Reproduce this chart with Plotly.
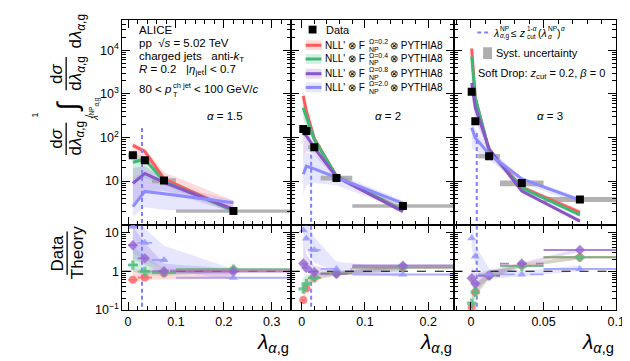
import plotly.graph_objects as go

W, H = 630, 361
FONT = "Liberation Sans, Arial, sans-serif"

# ---------------- data: alpha = 1.5 ----------------
a1_edges = [0.0, 0.02, 0.05, 0.10, 0.34]
a1_data = [39.0, 30.0, 10.3, 2.06]
a1_syst = [0.10, 0.10, 0.13, 0.09]
a1_th_02 = [66.0, 48.0, 11.2, 2.1]
a1_th_04 = [27.0, 31.5, 9.9, 2.1]
a1_th_08 = [8.9, 15.0, 9.4, 2.25]
a1_th_20 = [2.6, 5.8, 5.1, 3.2]
a1_lo_02 = [35, 30, 9.0, 1.9]
a1_hi_02 = [75, 56, 16, 3.6]
a1_lo_04 = [9, 12, 8, 1.9]
a1_hi_04 = [40, 38, 12, 2.4]
a1_lo_08 = [3, 6, 6, 1.9]
a1_hi_08 = [20, 22, 11, 2.6]
a1_lo_20 = [1.5, 2.5, 2.2, 1.9]
a1_hi_20 = [12, 16, 9, 3.6]
a1_rat_02 = [0.6, 0.69, 0.89, 1.1]
a1_rat_04 = [1.45, 0.98, 0.92, 1.12]
a1_rat_08 = [4.7, 2.15, 1.0, 0.98]
a1_rat_20 = [14.0, 5.4, 1.95, 0.68]
a1_np_cut = 0.029
a1_np_top = 165

# ---------------- data: alpha = 2 ----------------
a2_edges = [0.0, 0.005, 0.01, 0.03, 0.08, 0.24]
a2_data = [157.0, 141.0, 60.0, 11.8, 2.7]
a2_syst = [0.10, 0.10, 0.10, 0.13, 0.09]
a2_th_02 = [900, 400, 95, 13.0, 2.1]
a2_th_04 = [480, 300, 90, 13.0, 2.1]
a2_th_08 = [125, 110, 58, 12.6, 2.0]
a2_th_20 = [14.5, 22, 19, 12.2, 3.1]
a2_lo_02 = [350, 230, 75, 11.5, 1.9]
a2_hi_02 = [1100, 480, 110, 15, 2.6]
a2_lo_04 = [250, 180, 70, 11.5, 1.9]
a2_hi_04 = [600, 380, 100, 14.5, 2.5]
a2_lo_08 = [30, 50, 40, 11, 1.9]
a2_hi_08 = [200, 150, 70, 14, 2.3]
a2_lo_20 = [5, 8, 9, 8, 2.2]
a2_hi_20 = [30, 45, 40, 15, 3.6]
a2_rat_02 = [0.18, 0.36, 0.68, 0.88, 1.25]
a2_rat_04 = [0.35, 0.48, 0.68, 0.88, 1.25]
a2_rat_08 = [1.58, 1.22, 0.95, 0.86, 1.4]
a2_rat_20 = [11.4, 7.0, 3.55, 1.15, 0.83]
a2_np_cut = 0.015
a2_np_top = 40

# ---------------- data: alpha = 3 ----------------
a3_edges = [0.0, 0.001, 0.005, 0.02, 0.05, 0.10]
a3_data = [1120.0, 237.0, 37.4, 9.0, 3.8]
a3_syst = [0.12, 0.12, 0.12, 0.15, 0.13]
a3_th_02 = [11000, 800, 50, 7.3, 1.93]
a3_th_04 = [7200, 800, 50, 7.0, 1.68]
a3_th_08 = [1780, 485, 55, 5.9, 1.21]
a3_th_20 = [167, 97, 42, 11.2, 3.65]
a3_lo_02 = [5000, 500, 40, 6.5, 1.7]
a3_hi_02 = [14000, 1000, 60, 8.0, 2.2]
a3_lo_04 = [4000, 500, 40, 6.3, 1.5]
a3_hi_04 = [9000, 1000, 60, 7.7, 1.9]
a3_lo_08 = [900, 250, 40, 5.5, 1.1]
a3_hi_08 = [3000, 700, 65, 6.5, 1.35]
a3_lo_20 = [60, 50, 30, 9.0, 3.0]
a3_hi_20 = [300, 150, 55, 12.5, 4.2]
a3_rat_02 = [0.12, 0.29, 0.78, 1.4, 2.3]
a3_rat_04 = [0.15, 0.29, 0.78, 1.35, 2.3]
a3_rat_08 = [0.66, 0.48, 0.76, 1.58, 3.55]
a3_rat_20 = [7.1, 2.4, 0.83, 0.83, 1.15]
a3_np_cut = 0.004
a3_np_top = 127

alpha_labels = ["1.5", "2", "3"]
omega_labels = ["0.2", "0.4", "0.8", "2.0"]

COL = ["#ff5a5a", "#3cb878", "#8a55c8", "#8c8cff"]
BAND = ["rgba(255,90,90,0.22)", "rgba(60,184,120,0.22)",
        "rgba(138,85,200,0.22)", "rgba(140,140,255,0.22)"]
MCOL = ["rgba(255,100,100,0.8)", "rgba(80,190,130,0.8)",
        "rgba(150,100,210,0.8)", "rgba(150,150,255,0.8)"]
SYMB = ["circle", "cross", "diamond", "triangle-up"]
BARDASH = ["solid", "solid", "dash", "longdash"]
CUTDASH = "4px,3px"

panels = [
    dict(edges=a1_edges, data=a1_data, syst=a1_syst,
         th=[a1_th_02, a1_th_04, a1_th_08, a1_th_20],
         lo=[a1_lo_02, a1_lo_04, a1_lo_08, a1_lo_20],
         hi=[a1_hi_02, a1_hi_04, a1_hi_08, a1_hi_20],
         rat=[a1_rat_02, a1_rat_04, a1_rat_08, a1_rat_20],
         cut=a1_np_cut, cuttop=a1_np_top,
         xr=[-0.012, 0.34], dt=0.1, mdt=0.02, xd=[116, 287]),
    dict(edges=a2_edges, data=a2_data, syst=a2_syst,
         th=[a2_th_02, a2_th_04, a2_th_08, a2_th_20],
         lo=[a2_lo_02, a2_lo_04, a2_lo_08, a2_lo_20],
         hi=[a2_hi_02, a2_hi_04, a2_hi_08, a2_hi_20],
         rat=[a2_rat_02, a2_rat_04, a2_rat_08, a2_rat_20],
         cut=a2_np_cut, cuttop=a2_np_top,
         xr=[-0.017, 0.24], dt=0.1, mdt=0.02, xd=[287, 452]),
    dict(edges=a3_edges, data=a3_data, syst=a3_syst,
         th=[a3_th_02, a3_th_04, a3_th_08, a3_th_20],
         lo=[a3_lo_02, a3_lo_04, a3_lo_08, a3_lo_20],
         hi=[a3_hi_02, a3_hi_04, a3_hi_08, a3_hi_20],
         rat=[a3_rat_02, a3_rat_04, a3_rat_08, a3_rat_20],
         cut=a3_np_cut, cuttop=a3_np_top,
         xr=[-0.012, 0.10], dt=0.05, mdt=0.01, xd=[452, 617]),
]

Y_TOP = [12, 221]
Y_BOT = [221, 308]


def px(x):
    return x / W


def py(y):
    return 1 - y / H


fig = go.Figure()

for i, p in enumerate(panels):
    xt, yt = ("x" if i == 0 else f"x{i+1}"), ("y" if i == 0 else f"y{i+1}")
    xb, yb = f"x{i+4}", f"y{i+4}"
    e = p["edges"]
    nb = len(e) - 1
    cen = [(e[k] + e[k + 1]) / 2 for k in range(nb)]

    # theory bands (top)
    for m in range(4):
        fig.add_trace(go.Scatter(
            x=cen + cen[::-1], y=p["hi"][m] + p["lo"][m][::-1],
            fill="toself", fillcolor=BAND[m], line=dict(width=0),
            mode="lines", hoverinfo="skip", showlegend=False, xaxis=xt, yaxis=yt))
    # systematic boxes
    sx, sy = [], []
    for k in range(nb):
        lo_v = p["data"][k] * (1 - p["syst"][k])
        hi_v = p["data"][k] * (1 + p["syst"][k])
        sx += [e[k], e[k + 1], e[k + 1], e[k], e[k], None]
        sy += [lo_v, lo_v, hi_v, hi_v, lo_v, None]
    fig.add_trace(go.Scatter(x=sx, y=sy, fill="toself",
                             fillcolor="rgba(165,165,165,0.85)", line=dict(width=0),
                             mode="lines", showlegend=False, xaxis=xt, yaxis=yt))
    # theory lines
    for m in range(4):
        fig.add_trace(go.Scatter(x=cen, y=p["th"][m], mode="lines",
                                 line=dict(color=COL[m], width=3),
                                 showlegend=False, xaxis=xt, yaxis=yt))
    # NP cut line
    fig.add_trace(go.Scatter(x=[p["cut"], p["cut"]], y=[p["cuttop"], 0.5], mode="lines",
                             line=dict(color="#8080ff", width=2, dash=CUTDASH),
                             showlegend=False, xaxis=xt, yaxis=yt))
    # data
    fig.add_trace(go.Scatter(x=cen, y=p["data"], mode="markers",
                             marker=dict(symbol="square", size=8, color="black"),
                             showlegend=False, xaxis=xt, yaxis=yt))

    # ---- ratio panel ----
    for m in range(4):
        r = p["rat"][m]
        rhi = [r[k] * p["th"][m][k] / p["lo"][m][k] for k in range(nb)]
        rlo = [r[k] * p["th"][m][k] / p["hi"][m][k] for k in range(nb)]
        fig.add_trace(go.Scatter(
            x=cen + cen[::-1], y=rhi + rlo[::-1],
            fill="toself", fillcolor=BAND[m], line=dict(width=0),
            mode="lines", hoverinfo="skip", showlegend=False, xaxis=xb, yaxis=yb))
    fig.add_trace(go.Scatter(x=p["xr"], y=[1, 1], mode="lines",
                             line=dict(color="black", width=1, dash="dash"),
                             showlegend=False, xaxis=xb, yaxis=yb))
    fig.add_trace(go.Scatter(x=[p["cut"], p["cut"]], y=[0.01, 100], mode="lines",
                             line=dict(color="#8080ff", width=2, dash=CUTDASH),
                             showlegend=False, xaxis=xb, yaxis=yb))
    for m in range(4):
        r = p["rat"][m]
        bx, by = [], []
        for k in range(nb - 1):
            bx += [e[k], e[k + 1], None]
            by += [r[k], r[k], None]
        fig.add_trace(go.Scatter(x=bx, y=by, mode="lines",
                                 line=dict(color=MCOL[m], width=1.8, dash=BARDASH[m]),
                                 showlegend=False, xaxis=xb, yaxis=yb))
        fig.add_trace(go.Scatter(x=[e[nb - 1], e[nb]], y=[r[nb - 1], r[nb - 1]], mode="lines",
                                 line=dict(color=MCOL[m], width=2),
                                 showlegend=False, xaxis=xb, yaxis=yb))
        fig.add_trace(go.Scatter(
            x=cen, y=r, mode="markers",
            marker=dict(symbol=SYMB[m], size=8, color=MCOL[m], line=dict(width=0)),
            showlegend=False, xaxis=xb, yaxis=yb))

# ---------------- axes ----------------
top_minor = [m * 10 ** d for d in range(0, 5) for m in range(2, 10)]
bot_minor = [m * 10 ** d for d in range(-1, 2) for m in range(2, 10)]
layout = dict(width=W, height=H, margin=dict(l=0, r=0, t=0, b=0),
              paper_bgcolor="white", plot_bgcolor="white",
              font=dict(family=FONT, size=12, color="black"), showlegend=False)

common = dict(showline=True, linecolor="black", linewidth=1, mirror="ticks",
              ticks="inside", tickcolor="black", showgrid=False, zeroline=False)

for i, p in enumerate(panels):
    dom = [px(p["xd"][0]), px(p["xd"][1])]
    nt = "" if i == 0 else str(i + 1)
    nb_ = str(i + 4)
    xmin = dict(ticks="inside", ticklen=4, tickcolor="black", dtick=p["mdt"], tick0=0, showgrid=False)
    layout["xaxis" + nt] = dict(common, domain=dom, range=p["xr"], anchor="y" + nt,
                                dtick=p["dt"], tick0=0, ticklen=8, showticklabels=False,
                                minor=xmin)
    layout["xaxis" + nb_] = dict(common, domain=dom, range=p["xr"], anchor="y" + nb_,
                                 dtick=p["dt"], tick0=0, ticklen=8, showticklabels=True,
                                 tickfont=dict(size=12.5), minor=xmin)
    layout["yaxis" + nt] = dict(common, type="log", range=[0, 4.7], anchor="x" + nt,
                                domain=[py(Y_TOP[1]), py(Y_TOP[0])],
                                tickvals=[10, 100, 1000, 10000],
                                ticktext=["10", "10<sup>2</sup>", "10<sup>3</sup>", "10<sup>4</sup>"],
                                ticklen=8, showticklabels=(i == 0), tickfont=dict(size=12.5),
                                minor=dict(ticks="inside", ticklen=4, tickcolor="black",
                                           tickvals=top_minor, showgrid=False))
    layout["yaxis" + nb_] = dict(common, type="log", range=[-1, 1.2], anchor="x" + nb_,
                                 domain=[py(Y_BOT[1]), py(Y_BOT[0])],
                                 tickvals=[0.1, 1, 10],
                                 ticktext=["10<sup>\u22121</sup>", "1", "10"],
                                 ticklen=8, showticklabels=(i == 0), tickfont=dict(size=12.5),
                                 minor=dict(ticks="inside", ticklen=4, tickcolor="black",
                                            tickvals=bot_minor, showgrid=False))

fig.update_layout(**layout)


# ---------------- text ----------------
def txt(x, y, s, size=11, xa="left", ya="middle", angle=0):
    fig.add_annotation(x=px(x), y=py(y), xref="paper", yref="paper", text=s,
                       showarrow=False, xanchor=xa, yanchor=ya, textangle=angle,
                       font=dict(family=FONT, size=size, color="black"))


TX = 131
txt(TX, 22, "ALICE", 11.5)
txt(TX, 36, "pp  \u221a<i>s</i> = 5.02 TeV", 11.5)
txt(TX, 50, "charged jets   anti-<i>k</i><sub>T</sub>", 11.5)
txt(TX, 63, "<i>R</i> = 0.2   |<i>\u03b7</i><sub>jet</sub>| < 0.7", 11.5)
txt(TX, 83, "80 < <i>p</i>", 11.5)
txt(165, 79, "ch jet", 7.5)
txt(165, 88, "T", 7.5)
txt(187, 83, "< 100 GeV/<i>c</i>", 11.5)

alpha_x = [220, 385, 550]
for i in range(3):
    txt(alpha_x[i], 110, "<i>\u03b1</i> = " + alpha_labels[i], 11.5, xa="center")
    txt(panels[i]["xd"][1], 342, "<i>\u03bb</i><sub><i>\u03b1</i>,g</sub>", 21, xa="right")

# legend panel 2
fig.add_shape(type="rect", xref="paper", yref="paper", x0=px(305), x1=px(313), y0=py(26), y1=py(18),
              fillcolor="black", line=dict(width=0))
txt(321, 22, "Data", 11)
leg_y = [38, 52, 67, 81]
for m in range(4):
    fig.add_shape(type="rect", xref="paper", yref="paper", x0=px(302), x1=px(318),
                  y0=py(leg_y[m] + 5), y1=py(leg_y[m] - 5), fillcolor=BAND[m], line=dict(width=0))
    fig.add_shape(type="line", xref="paper", yref="paper", x0=px(302), x1=px(318),
                  y0=py(leg_y[m]), y1=py(leg_y[m]), line=dict(color=COL[m], width=3))
    txt(320, leg_y[m], "NLL' \u2297 F", 10)
    txt(364.5, leg_y[m] - 4, "\u03a9=" + omega_labels[m], 7)
    txt(364.5, leg_y[m] + 4, "NP", 7)
    txt(386, leg_y[m], "\u2297 PYTHIA8", 10)

# legend panel 3
fig.add_shape(type="line", xref="paper", yref="paper", x0=px(476), x1=px(489), y0=py(25), y1=py(25),
              line=dict(color="#8080ff", width=2, dash=CUTDASH))
LY = 25
txt(490, LY, "<i>\u03bb</i>", 10.5)
txt(497, LY - 4, "NP", 6.5)
txt(497, LY + 4, "<i>\u03b1</i>,g", 6.5)
txt(508, LY, "\u2264 <i>z</i>", 10.5)
txt(524, LY - 4, "1-<i>\u03b1</i>", 6.5)
txt(524, LY + 4, "cut", 6.5)
txt(536, LY, "(<i>\u03bb</i>", 10.5)
txt(546, LY - 4, "NP", 6.5)
txt(546, LY + 4, "<i>\u03b1</i>", 6.5)
txt(555, LY, ")", 10.5)
txt(559, LY - 4, "<i>\u03b1</i>", 6.5)
fig.add_shape(type="rect", xref="paper", yref="paper", x0=px(482), x1=px(491), y0=py(52), y1=py(40),
              fillcolor="rgba(165,165,165,0.9)", line=dict(width=0))
txt(493, 46, "Syst. uncertainty", 11)
txt(475, 67, "Soft Drop: <i>z</i><sub>cut</sub> = 0.2, <i>\u03b2</i> = 0", 11)

# y titles (rotated)
TS = 17


def vbar(x, y0, y1):
    fig.add_shape(type="line", xref="paper", yref="paper", x0=px(x), x1=px(x), y0=py(y0), y1=py(y1),
                  line=dict(color="black", width=1.3))


txt(49, 133, "d<i>\u03c3</i>", TS, xa="center", angle=-90)
txt(70, 133, "d<i>\u03bb</i><sub><i>\u03b1</i>,g</sub>", TS, xa="center", angle=-90)
vbar(59, 117, 150)
txt(82, 110, "/", 11, xa="center", angle=-90)
txt(60, 100, "\u222b", 28, xa="center", angle=-90)
txt(27, 109, "1", 9, xa="center", angle=-90)
txt(88, 103, "<i>\u03bb</i><sup>NP</sup><sub><i>\u03b1</i>,g</sub>", 9, xa="center", angle=-90)
txt(49, 67, "d<i>\u03c3</i>", TS, xa="center", angle=-90)
txt(70, 67, "d<i>\u03bb</i><sub><i>\u03b1</i>,g</sub>", TS, xa="center", angle=-90)
vbar(59, 50, 84)
txt(70, 24, "d<i>\u03bb</i><sub><i>\u03b1</i>,g</sub>", TS, xa="center", angle=-90)

txt(50, 250, "Data", TS, xa="center", angle=-90)
txt(70, 250, "Theory", TS, xa="center", angle=-90)
vbar(60, 228, 272)

fig.write_html("out.html")
